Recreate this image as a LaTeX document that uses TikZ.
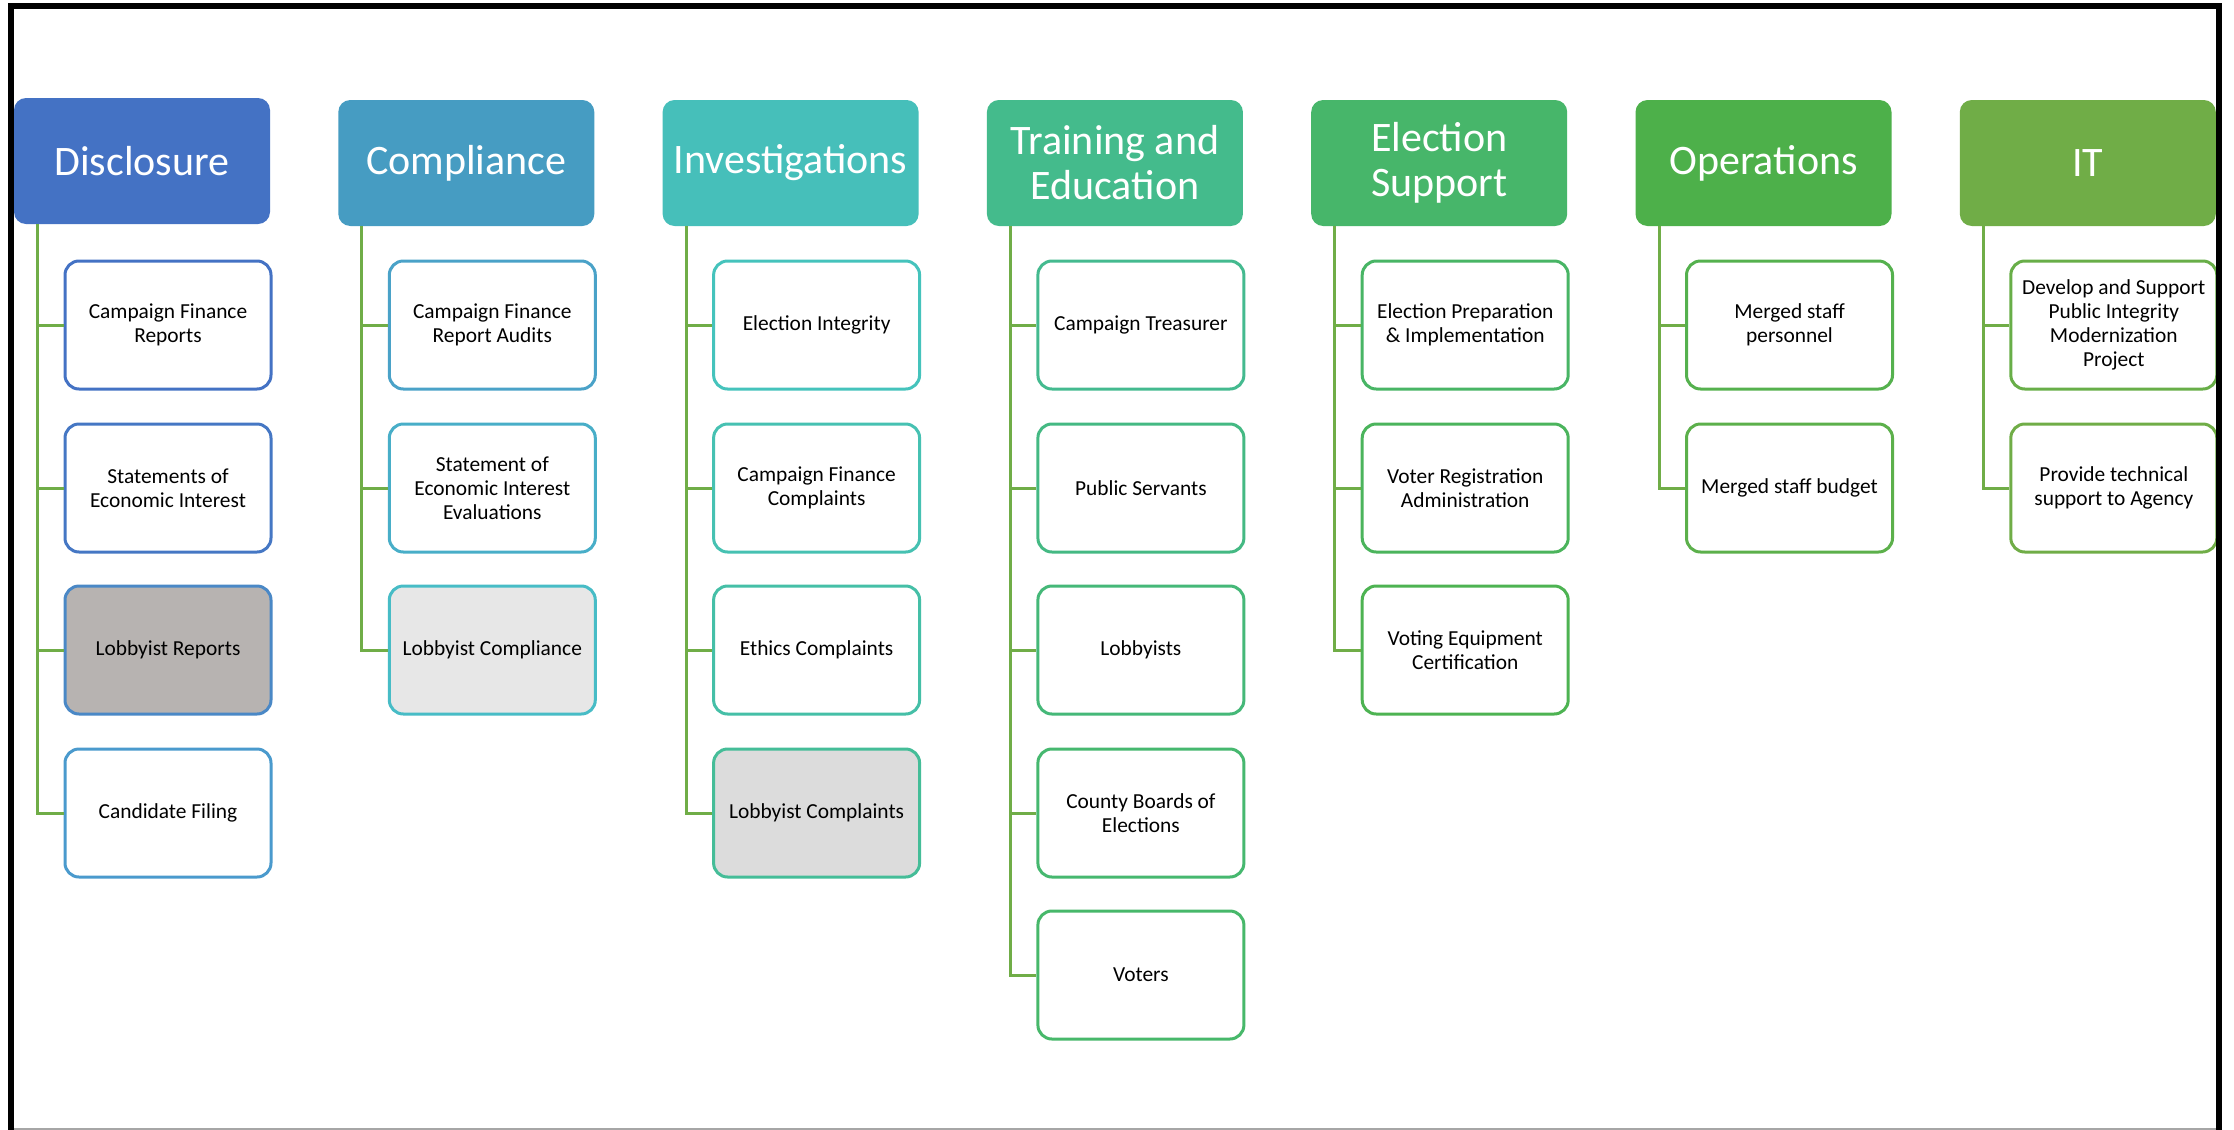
\documentclass[tikz,border=0pt]{standalone}
\usepackage{fontspec}
\setmainfont{Carlito}
\definecolor{cD}{HTML}{4472C4}
\definecolor{cC}{HTML}{469CC2}
\definecolor{cI}{HTML}{46BFBA}
\definecolor{cT}{HTML}{44BB8C}
\definecolor{cE}{HTML}{47B66A}
\definecolor{cO}{HTML}{4DB04A}
\definecolor{cIT}{HTML}{70AD47}
\definecolor{bD1}{HTML}{4472C4}
\definecolor{bD2}{HTML}{4577C4}
\definecolor{bD3}{HTML}{4A88C6}
\definecolor{bD4}{HTML}{4A9ACD}
\definecolor{bC1}{HTML}{4AA2C8}
\definecolor{bC2}{HTML}{48AEC8}
\definecolor{bC3}{HTML}{47BCC6}
\definecolor{bI1}{HTML}{45C3BC}
\definecolor{bI2}{HTML}{46C1B2}
\definecolor{bI3}{HTML}{45BFA7}
\definecolor{bI4}{HTML}{45BD98}
\definecolor{bT1}{HTML}{44BA8F}
\definecolor{bT2}{HTML}{44B983}
\definecolor{bT3}{HTML}{45B878}
\definecolor{bT4}{HTML}{46B86F}
\definecolor{bT5}{HTML}{47B86A}
\definecolor{bE1}{HTML}{48B565}
\definecolor{bE2}{HTML}{4BB45C}
\definecolor{bE3}{HTML}{4DB352}
\definecolor{bO1}{HTML}{55B14E}
\definecolor{bO2}{HTML}{5CB04B}
\definecolor{bIT1}{HTML}{68AE48}
\definecolor{bIT2}{HTML}{70AD47}
\definecolor{connc}{HTML}{70AD47}
\definecolor{grayA}{HTML}{B7B3B1}
\definecolor{grayB}{HTML}{E7E7E7}
\definecolor{grayC}{HTML}{DCDCDC}
\tikzset{
  head/.style={rectangle, rounded corners=6pt, fill=#1, draw=none,
    minimum width=128pt, minimum height=63pt, text=white, align=center,
    font=\fontsize{21}{22.5}\selectfont, inner sep=2pt},
  child/.style={rectangle, rounded corners=7pt, draw=#1, line width=1.5pt, fill=white,
    minimum width=103pt, minimum height=64pt, text=black, align=center,
    font=\fontsize{10.7}{12}\selectfont, inner sep=2pt},
  conn/.style={draw=connc, line width=1.5pt}
}
\begin{document}
\begin{tikzpicture}[x=0.5pt,y=-0.5pt]
\useasboundingbox (0,0) rectangle (2234,1130);
\fill[white] (0,0) rectangle (2234,1130);
% headers
\node[head=cD]  (hD)  at (142,161)   {Disclosure};
\node[head=cC]  (hC)  at (466.3,163) {Compliance};
\node[head=cI]  (hI)  at (790.6,163) {Investigations};
\node[head=cT]  (hT)  at (1114.9,163) {Training and\\Education};
\node[head=cE]  (hE)  at (1439.2,163) {Election\\Support};
\node[head=cO]  (hO)  at (1763.5,163) {Operations};
\node[head=cIT] (hIT) at (2087.8,163) {IT};
% Disclosure children
\node[child=bD1] (d1) at (168,325) {Campaign Finance\\Reports};
\node[child=bD2] (d2) at (168,488) {Statements of\\Economic Interest};
\node[child=bD3, fill=grayA] (d3) at (168,650) {Lobbyist Reports};
\node[child=bD4] (d4) at (168,813) {Candidate Filing};
% Compliance
\node[child=bC1] (c1) at (492.3,325) {Campaign Finance\\Report Audits};
\node[child=bC2] (c2) at (492.3,488) {Statement of\\Economic Interest\\Evaluations};
\node[child=bC3, fill=grayB] (c3) at (492.3,650) {Lobbyist Compliance};
% Investigations
\node[child=bI1] (i1) at (816.6,325) {Election Integrity};
\node[child=bI2] (i2) at (816.6,488) {Campaign Finance\\Complaints};
\node[child=bI3] (i3) at (816.6,650) {Ethics Complaints};
\node[child=bI4, fill=grayC] (i4) at (816.6,813) {Lobbyist Complaints};
% Training
\node[child=bT1] (t1) at (1140.9,325) {Campaign Treasurer};
\node[child=bT2] (t2) at (1140.9,488) {Public Servants};
\node[child=bT3] (t3) at (1140.9,650) {Lobbyists};
\node[child=bT4] (t4) at (1140.9,813) {County Boards of\\Elections};
\node[child=bT5] (t5) at (1140.9,975) {Voters};
% Election Support
\node[child=bE1] (e1) at (1465.2,325) {Election Preparation\\\& Implementation};
\node[child=bE2] (e2) at (1465.2,488) {Voter Registration\\Administration};
\node[child=bE3] (e3) at (1465.2,650) {Voting Equipment\\Certification};
% Operations
\node[child=bO1] (o1) at (1789.5,325) {Merged staff\\personnel};
\node[child=bO2] (o2) at (1789.5,488) {Merged staff budget};
% IT
\node[child=bIT1] (x1) at (2113.8,325) {Develop and Support\\Public Integrity\\Modernization\\Project};
\node[child=bIT2] (x2) at (2113.8,488) {Provide technical\\support to Agency};
% connectors
\foreach \h/\c in {hD/d1,hD/d2,hD/d3,hD/d4,hC/c1,hC/c2,hC/c3,hI/i1,hI/i2,hI/i3,hI/i4,
  hT/t1,hT/t2,hT/t3,hT/t4,hT/t5,hE/e1,hE/e2,hE/e3,hO/o1,hO/o2,hIT/x1,hIT/x2}
  \draw[conn] ([xshift=12pt]\h.south west) |- (\c.west);
% frame
\draw[gray!70, line width=1pt] (11,1128.5) -- (2219,1128.5);
\draw[black, line width=3pt] (11,1130) -- (11,5.5) -- (2219,5.5) -- (2219,1130);
\end{tikzpicture}
\end{document}
